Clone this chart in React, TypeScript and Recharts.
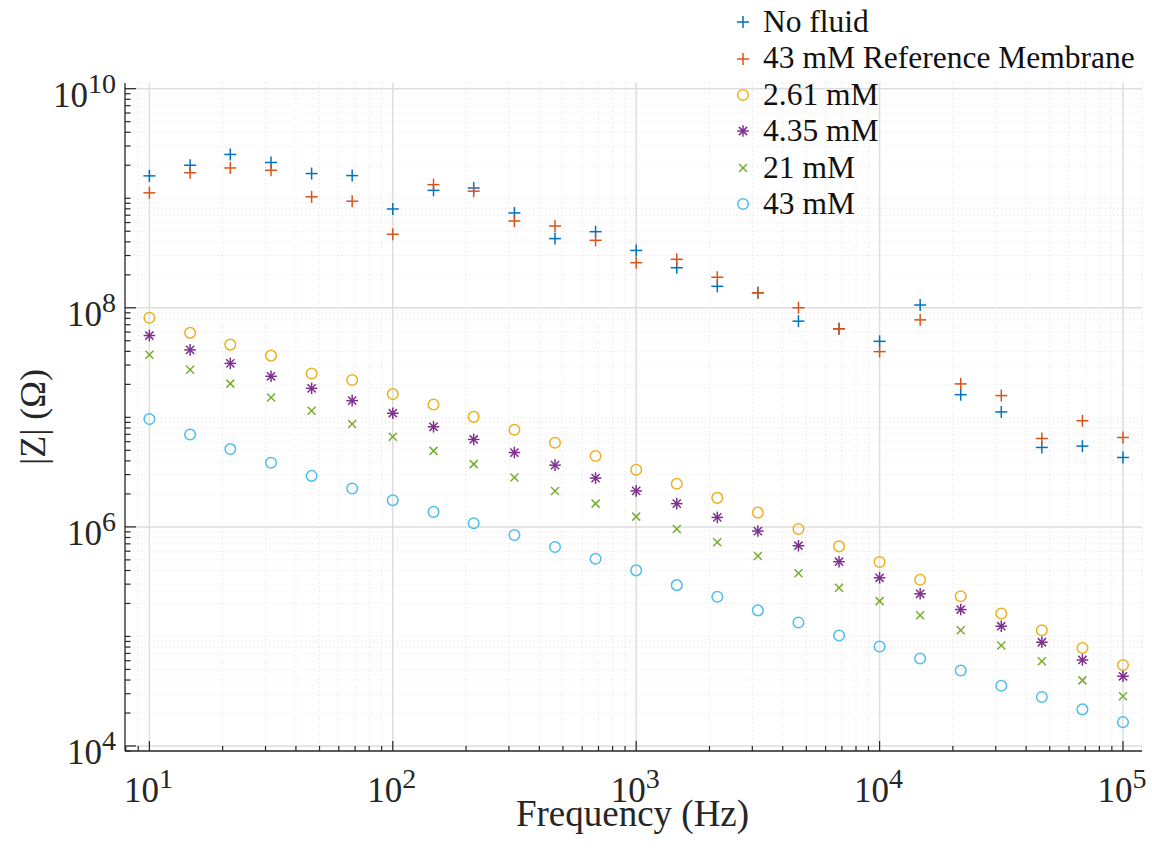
import React from 'react';
import { ScatterChart, Scatter, XAxis, YAxis, CartesianGrid, Legend } from 'recharts';

const FONT = "'Liberation Serif', Tinos, 'Times New Roman', Times, serif";
const AXIS_COLOR = '#262626';

// measurement frequencies (Hz)
const frequencies = [
  10, 14.7, 21.5, 31.6, 46.4, 68.1, 100, 147, 215, 316, 464, 681, 1000,
  1468, 2154, 3162, 4642, 6813, 10000, 14678, 21544, 31623, 46416, 68129, 100000,
];

// |Z| in ohms
const noFluid = [
  1.6e9, 2.0e9, 2.51e9, 2.12e9, 1.68e9, 1.61e9, 7.98e8, 1.18e9, 1.24e9, 7.34e8, 4.28e8, 4.95e8, 3.34e8,
  2.32e8, 1.57e8, 1.37e8, 7.55e7, 6.43e7, 4.94e7, 1.06e8, 1.61e7, 1.12e7, 5.31e6, 5.46e6, 4.3e6,
];
const refMembrane = [
  1.12e9, 1.71e9, 1.89e9, 1.8e9, 1.03e9, 9.4e8, 4.69e8, 1.33e9, 1.16e9, 6.2e8, 5.58e8, 4.13e8, 2.58e8,
  2.77e8, 1.9e8, 1.37e8, 1.0e8, 6.43e7, 3.98e7, 7.76e7, 2.02e7, 1.58e7, 6.41e6, 9.31e6, 6.55e6,
];
const mM261 = [
  8.1e7, 5.9e7, 4.61e7, 3.66e7, 2.51e7, 2.19e7, 1.63e7, 1.31e7, 1.01e7, 7.71e6, 5.86e6, 4.43e6, 3.32e6,
  2.48e6, 1.84e6, 1.35e6, 9.57e5, 6.64e5, 4.78e5, 3.29e5, 2.33e5, 1.62e5, 1.14e5, 7.85e4, 5.48e4,
];
const mM435 = [
  5.58e7, 4.13e7, 3.11e7, 2.37e7, 1.84e7, 1.42e7, 1.09e7, 8.2e6, 6.28e6, 4.77e6, 3.66e6, 2.79e6, 2.13e6,
  1.63e6, 1.22e6, 9.16e5, 6.73e5, 4.81e5, 3.43e5, 2.45e5, 1.76e5, 1.24e5, 8.85e4, 6.1e4, 4.33e4,
];
const mM21 = [
  3.72e7, 2.72e7, 2.03e7, 1.52e7, 1.15e7, 8.69e6, 6.64e6, 4.94e6, 3.74e6, 2.82e6, 2.13e6, 1.63e6, 1.24e6,
  9.57e5, 7.23e5, 5.42e5, 3.78e5, 2.78e5, 2.1e5, 1.56e5, 1.14e5, 8.26e4, 5.93e4, 3.97e4, 2.84e4,
];
const mM43 = [
  9.64e6, 6.97e6, 5.13e6, 3.85e6, 2.92e6, 2.24e6, 1.75e6, 1.37e6, 1.08e6, 8.43e5, 6.55e5, 5.12e5, 4.01e5,
  2.94e5, 2.3e5, 1.73e5, 1.34e5, 1.02e5, 8.09e4, 6.28e4, 4.88e4, 3.55e4, 2.8e4, 2.16e4, 1.65e4,
];

const xDomain: [number, number] = [7.94, 1.197e5];
const yDomain: [number, number] = [9.0e3, 1.127e10];
const xMajorTicks = [10, 100, 1000, 10000, 100000];
const yMajorTicks = [1e4, 1e6, 1e8, 1e10];
const minorSteps = [1, 2, 3, 4, 5, 6, 7, 8, 9];

type MarkerKind = 'plus' | 'circle' | 'star' | 'cross';

const series: { name: string; values: number[]; color: string; marker: MarkerKind }[] = [
  { name: 'No fluid', values: noFluid, color: '#0072BD', marker: 'plus' },
  { name: '43 mM Reference Membrane', values: refMembrane, color: '#D95319', marker: 'plus' },
  { name: '2.61 mM', values: mM261, color: '#EDB120', marker: 'circle' },
  { name: '4.35 mM', values: mM435, color: '#7E2F8E', marker: 'star' },
  { name: '21 mM', values: mM21, color: '#77AC30', marker: 'cross' },
  { name: '43 mM', values: mM43, color: '#4DBEEE', marker: 'circle' },
];

// all log ticks (1..9 x 10^n) that fall inside the domain
const logTicks = (lo: number, hi: number, domain: [number, number]) => {
  const out: number[] = [];
  for (let e = lo; e <= hi; e++) {
    minorSteps.forEach((m) => {
      const v = Number((m * Math.pow(10, e)).toPrecision(6));
      if (v >= domain[0] && v <= domain[1]) out.push(v);
    });
  }
  return out;
};

const xTicks = logTicks(0, 5, xDomain);
const yTicks = logTicks(3, 10, yDomain);

const isMajor = (list: number[], v: number) => list.some((t) => Math.abs(t - v) / t < 1e-6);

const Marker = ({ kind, cx, cy, color }: { kind: MarkerKind; cx: number; cy: number; color: string }) => {
  const sw = 1.5;
  if (kind === 'plus') {
    const h = 6;
    return (
      <g stroke={color} strokeWidth={sw}>
        <line x1={cx - h} y1={cy} x2={cx + h} y2={cy} />
        <line x1={cx} y1={cy - h} x2={cx} y2={cy + h} />
      </g>
    );
  }
  if (kind === 'circle') {
    return <circle cx={cx} cy={cy} r={5.3} fill="none" stroke={color} strokeWidth={sw} />;
  }
  if (kind === 'cross') {
    const h = 4;
    return (
      <g stroke={color} strokeWidth={sw}>
        <line x1={cx - h} y1={cy - h} x2={cx + h} y2={cy + h} />
        <line x1={cx - h} y1={cy + h} x2={cx + h} y2={cy - h} />
      </g>
    );
  }
  const h = 5.8;
  const d = 4.1;
  return (
    <g stroke={color} strokeWidth={sw}>
      <line x1={cx - h} y1={cy} x2={cx + h} y2={cy} />
      <line x1={cx} y1={cy - h} x2={cx} y2={cy + h} />
      <line x1={cx - d} y1={cy - d} x2={cx + d} y2={cy + d} />
      <line x1={cx - d} y1={cy + d} x2={cx + d} y2={cy - d} />
    </g>
  );
};

const PowerLabel = ({ x, y, v, anchor }: { x: number; y: number; v: number; anchor: 'middle' | 'end' }) => (
  <text x={x} y={y} textAnchor={anchor} fontFamily={FONT} fontSize={35} fill={AXIS_COLOR}>
    <tspan>10</tspan>
    <tspan dy={-14} fontSize={28}>
      {Math.round(Math.log10(v))}
    </tspan>
  </text>
);

const XTick = (props: any) => {
  const { x, y, payload } = props;
  const major = isMajor(xMajorTicks, payload.value);
  return (
    <g>
      <line x1={x} y1={y} x2={x} y2={y - (major ? 10 : 5)} stroke={AXIS_COLOR} strokeWidth={1.2} />
      {major && <PowerLabel x={x - 1} y={y + 51} v={payload.value} anchor="middle" />}
    </g>
  );
};

const YTick = (props: any) => {
  const { x, y, payload } = props;
  const major = isMajor(yMajorTicks, payload.value);
  return (
    <g>
      <line x1={x} y1={y} x2={x + (major ? 11 : 5.5)} y2={y} stroke={AXIS_COLOR} strokeWidth={1.2} />
      {major && <PowerLabel x={x - 9} y={y + 18} v={payload.value} anchor="end" />}
    </g>
  );
};

const XLabel = (props: any) => {
  const vb = props.viewBox || { x: 125, y: 751, width: 1017, height: 60 };
  return (
    <text x={vb.x + vb.width / 2 - 1} y={vb.y + 75} textAnchor="middle" fontFamily={FONT} fontSize={37} fill={AXIS_COLOR}>
      Frequency (Hz)
    </text>
  );
};

const YLabel = (props: any) => {
  const vb = props.viewBox || { x: 25, y: 83, width: 100, height: 668 };
  const cx = vb.x + 20;
  const cy = vb.y + vb.height / 2;
  return (
    <text
      x={cx}
      y={cy}
      transform={`rotate(-90, ${cx}, ${cy})`}
      textAnchor="middle"
      fontFamily={FONT}
      fontSize={36}
      fill={AXIS_COLOR}
    >
      |Z| (Ω)
    </text>
  );
};

const LegendContent = () => (
  <div style={{ fontFamily: FONT, fontSize: 31.5, color: '#111' }}>
    {series.map((s) => (
      <div
        key={s.name}
        style={{ display: 'flex', alignItems: 'center', height: 36.4, lineHeight: '36.4px', whiteSpace: 'nowrap' }}
      >
        <svg width={20} height={20} style={{ marginRight: 10, flex: 'none' }}>
          <Marker kind={s.marker} cx={10} cy={10} color={s.color} />
        </svg>
        <span>{s.name}</span>
      </div>
    ))}
  </div>
);

export default function App() {
  return (
    <div style={{ position: 'absolute', left: 0, top: 0, width: 1152, height: 855, background: '#fff' }}>
      <ScatterChart width={1152} height={855} margin={{ top: 83, right: 10, bottom: 44, left: 25 }}>
        <CartesianGrid stroke="#e3e3e3" strokeDasharray="1 3" strokeWidth={1} />
        <CartesianGrid
          horizontalValues={yMajorTicks}
          verticalValues={xMajorTicks}
          stroke="#dedede"
          strokeWidth={1.5}
        />
        <XAxis
          type="number"
          dataKey="f"
          scale="log"
          domain={xDomain}
          allowDataOverflow
          ticks={xTicks}
          interval={0}
          height={60}
          tickSize={0}
          tickMargin={0}
          tickLine={false}
          tick={<XTick />}
          axisLine={{ stroke: AXIS_COLOR, strokeWidth: 1.3 }}
          label={XLabel}
        />
        <YAxis
          type="number"
          dataKey="z"
          scale="log"
          domain={yDomain}
          allowDataOverflow
          ticks={yTicks}
          interval={0}
          width={100}
          tickSize={0}
          tickMargin={0}
          tickLine={false}
          tick={<YTick />}
          axisLine={{ stroke: AXIS_COLOR, strokeWidth: 1.3 }}
          label={YLabel}
        />
        <Legend
          layout="vertical"
          align="center"
          verticalAlign="middle"
          content={<LegendContent />}
          wrapperStyle={{ top: 4, left: 733, width: 'auto', height: 'auto' }}
        />
        {series.map((s) => (
          <Scatter
            key={s.name}
            name={s.name}
            data={frequencies.map((f, i) => ({ f, z: s.values[i] }))}
            isAnimationActive={false}
            shape={(p: any) => <Marker kind={s.marker} cx={p.cx} cy={p.cy} color={s.color} />}
          />
        ))}
      </ScatterChart>
    </div>
  );
}
